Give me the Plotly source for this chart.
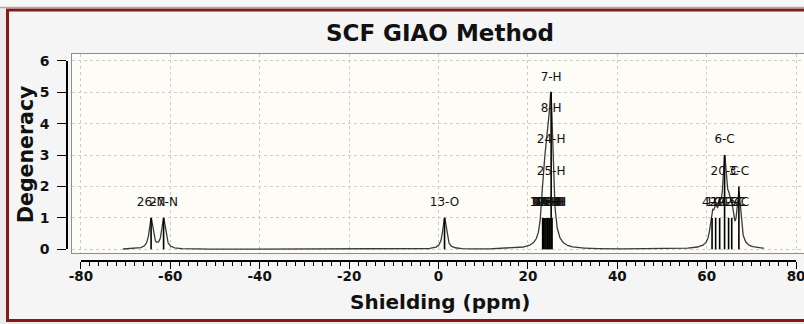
import numpy as np
import plotly.graph_objects as go

# ---------------- data ----------------
# chemical shielding (ppm) of each stick, and the atom labels stacked on it (bottom -> top);
# degeneracy of a stick = number of atoms on it
N_SHIFTS = [-64.3, -61.5]
N_LABELS = [["26-N"], ["27-N"]]

O_SHIFTS = [1.35]
O_LABELS = [["13-O"]]

H_SHIFTS = [23.3, 23.55, 23.8, 24.05, 24.3, 24.5, 24.75, 24.95, 25.2, 25.4]
H_LABELS = [["9-H"], ["10-H"], ["11-H"], ["12-H"], ["14-H"], ["15-H"], ["16-H"],
            ["17-H"], ["23-H", "25-H", "24-H", "8-H", "7-H"], ["18-H"]]

C_SHIFTS = [61.2, 62.0, 62.9, 64.0, 64.9, 65.6, 67.2]
C_LABELS = [["4-C"], ["1-C"], ["2-C"], ["19-C", "20-C", "6-C"], ["21-C"], ["22-C"], ["5-C", "3-C"]]

GROUPS = [(N_SHIFTS, N_LABELS), (O_SHIFTS, O_LABELS), (H_SHIFTS, H_LABELS), (C_SHIFTS, C_LABELS)]

X_TICKS = [-80, -60, -40, -20, 0, 20, 40, 60, 80]
X_TICK_TEXT = ["-80", "-60", "-40", "-20", "0", "20", "40", "60", "80"]
Y_TICKS = [0, 1, 2, 3, 4, 5, 6]

SPEC_START, SPEC_END = -70.6, 72.8   # extent of the broadened spectrum
HWHM = 0.5                            # Lorentzian half width (ppm)

# ---------------- geometry helpers (pixels -> paper) ----------------
W, H = 804, 324
def px(x): return x / W
def py(y): return (H - y) / H

X0PX, XPPM = 438.5, 4.47       # pixel of 0 ppm, pixels per ppm
Y0PX, YUNIT = 249.3, 31.4      # pixel of degeneracy 0, pixels per unit
BOX_L, BOX_R, BOX_T, BOX_B = 72, 804, 54, 253

# ---------------- broadened spectrum ----------------
grid = np.arange(SPEC_START, SPEC_END + 1e-9, 0.05)
spectrum = np.zeros_like(grid)
for shifts, labels in GROUPS:
    g = np.zeros_like(grid)
    for s, lab in zip(shifts, labels):
        g += len(lab) / (1.0 + ((grid - s) / HWHM) ** 2)
    g *= max(len(l) for l in labels) / g.max()
    spectrum += g

# ---------------- sticks & labels ----------------
stick_x, stick_y, lab_x, lab_y, lab_t = [], [], [], [], []
for shifts, labels in GROUPS:
    for s, lab in zip(shifts, labels):
        stick_x += [s, s, None]
        stick_y += [0, len(lab), None]
        for k, t in enumerate(lab, start=1):
            lab_x.append(s)
            lab_y.append(k + 0.47)
            lab_t.append(t)

FONT = "DejaVu Sans, sans-serif"

fig = go.Figure()
fig.add_trace(go.Scatter(x=grid, y=spectrum, mode="lines",
                         line=dict(color="#3a3a3a", width=1.3),
                         hoverinfo="skip", showlegend=False))
fig.add_trace(go.Scatter(x=stick_x, y=stick_y, mode="lines",
                         line=dict(color="black", width=1.6),
                         hoverinfo="skip", showlegend=False))
fig.add_trace(go.Scatter(x=lab_x, y=lab_y, mode="text", text=lab_t,
                         textposition="middle center",
                         textfont=dict(family=FONT, size=12, color="#111111"),
                         hoverinfo="skip", showlegend=False))
# carrier for the detached axes
fig.add_trace(go.Scatter(x=[None], y=[None], xaxis="x2", yaxis="y2",
                         hoverinfo="skip", showlegend=False))

xr = [(BOX_L - X0PX) / XPPM, (BOX_R - X0PX) / XPPM]
yr = [(Y0PX - BOX_B) / YUNIT, (Y0PX - BOX_T) / YUNIT]

fig.update_layout(
    width=W, height=H,
    margin=dict(l=0, r=0, t=0, b=0, autoexpand=False),
    paper_bgcolor="#ececec",
    plot_bgcolor="rgba(0,0,0,0)",
    title=dict(text="<b>SCF GIAO Method</b>", x=px(440), y=py(33),
               xref="paper", yref="paper", xanchor="center", yanchor="middle",
               font=dict(family=FONT, size=23, color="#111")),
    xaxis=dict(domain=[px(BOX_L), px(BOX_R)], range=xr,
               tickmode="array", tickvals=X_TICKS, showticklabels=False, ticks="",
               showgrid=True, gridcolor="#cdcdcd", griddash="dot", gridwidth=1,
               zeroline=False, showline=True, mirror=True, linecolor="#8d8d8d", linewidth=1),
    yaxis=dict(domain=[py(BOX_B), py(BOX_T)], range=yr,
               tickmode="array", tickvals=Y_TICKS, showticklabels=False, ticks="",
               showgrid=True, gridcolor="#cdcdcd", griddash="dot", gridwidth=1,
               zeroline=False, showline=True, mirror=True, linecolor="#8d8d8d", linewidth=1),
    xaxis2=dict(domain=[px(X0PX + X_TICKS[0] * XPPM), px(X0PX + X_TICKS[-1] * XPPM)],
                range=[X_TICKS[0], X_TICKS[-1]], anchor="free", position=py(261),
                tickmode="array", tickvals=X_TICKS, ticktext=X_TICK_TEXT,
                ticks="outside", ticklen=7, ticklabeloverflow="allow",
                tickwidth=1.3, tickcolor="black", ticklabelstandoff=-4,
                minor=dict(dtick=2, ticks="outside", ticklen=4, tickcolor="black", tickwidth=1),
                showline=True, linecolor="black", linewidth=1.5,
                showgrid=False, zeroline=False,
                tickfont=dict(family=FONT, size=13.5, color="#111", weight="bold")),
    yaxis2=dict(domain=[py(Y0PX), py(Y0PX - Y_TICKS[-1] * YUNIT)],
                range=[Y_TICKS[0], Y_TICKS[-1]], anchor="free", position=px(67),
                tickmode="array", tickvals=Y_TICKS, ticks="outside", ticklen=9,
                tickwidth=1.3, tickcolor="black", ticklabelstandoff=5,
                showline=True, linecolor="black", linewidth=1.5,
                showgrid=False, zeroline=False,
                tickfont=dict(family=FONT, size=14, color="#111", weight="bold")),
    shapes=[
        dict(type="rect", xref="paper", yref="paper", x0=px(7.5), x1=1.05,
             y0=py(320.5), y1=py(10), line=dict(color="#861818", width=3),
             fillcolor="#f5f5f5", layer="below"),
        dict(type="rect", xref="paper", yref="paper", x0=0, x1=1, y0=py(7.5), y1=1,
             line=dict(width=0), fillcolor="#f7f7f7", layer="below"),
        dict(type="line", xref="paper", yref="paper", x0=0, x1=1, y0=py(7.5), y1=py(7.5),
             line=dict(color="#a9a9a9", width=1.5), layer="below"),
        dict(type="rect", xref="paper", yref="paper", x0=px(BOX_L), x1=px(BOX_R),
             y0=py(BOX_B), y1=py(BOX_T), line=dict(width=0),
             fillcolor="#fdfcf7", layer="below"),
    ],
    annotations=[
        dict(text="<b>Degeneracy</b>", x=px(26), y=py(155), xref="paper", yref="paper",
             textangle=-90, showarrow=False, xanchor="center", yanchor="middle",
             font=dict(family=FONT, size=20.5, color="#111")),
        dict(text="<b>Shielding (ppm)</b>", x=px(440), y=py(302), xref="paper", yref="paper",
             showarrow=False, xanchor="center", yanchor="middle",
             font=dict(family=FONT, size=20, color="#111")),
    ],
)

fig.write_html("out.html", config={"displayModeBar": False},
               post_script="document.body.style.margin='0';")
